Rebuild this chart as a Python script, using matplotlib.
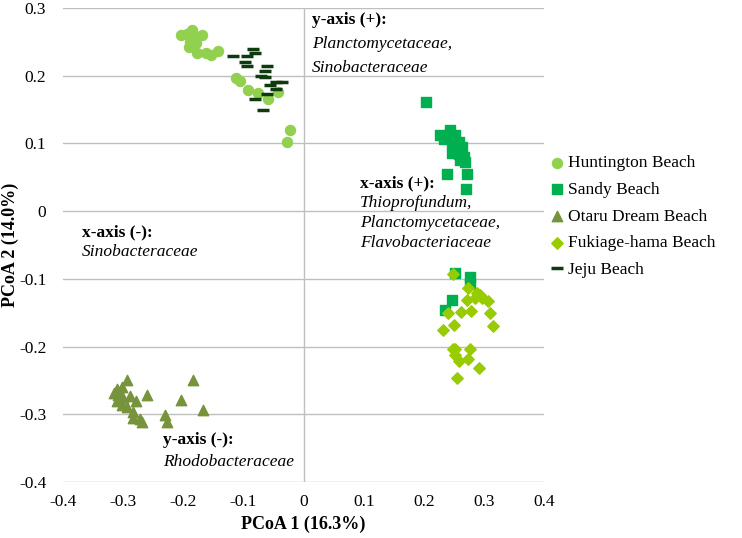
import matplotlib
matplotlib.use("Agg")
import matplotlib.pyplot as plt

plt.rcParams['font.family'] = ['Liberation Serif', 'DejaVu Serif']

# PCoA coordinates
hunt_x = [-0.204, -0.186, -0.194, -0.183, -0.169, -0.189, -0.179, -0.190, -0.178, -0.162,
          -0.154, -0.142, -0.112, -0.106, -0.092, -0.075, -0.059, -0.042, -0.022, -0.027]
hunt_y = [0.260, 0.268, 0.262, 0.260, 0.260, 0.250, 0.248, 0.243, 0.233, 0.233,
          0.230, 0.237, 0.197, 0.192, 0.179, 0.175, 0.166, 0.176, 0.120, 0.102]

sandy_x = [0.204, 0.227, 0.243, 0.233, 0.252, 0.247, 0.258, 0.263, 0.249, 0.247, 0.258,
           0.266, 0.260, 0.269, 0.238, 0.272, 0.270, 0.252, 0.277, 0.277, 0.247, 0.235]
sandy_y = [0.161, 0.112, 0.120, 0.107, 0.112, 0.100, 0.102, 0.095, 0.093, 0.086, 0.084,
           0.080, 0.075, 0.073, 0.055, 0.055, 0.032, -0.092, -0.097, -0.107, -0.131, -0.146]

otaru_x = [-0.294, -0.183, -0.311, -0.302, -0.316, -0.308, -0.300, -0.289, -0.278, -0.261,
           -0.311, -0.302, -0.294, -0.283, -0.284, -0.272, -0.269, -0.203, -0.167, -0.230, -0.227]
otaru_y = [-0.249, -0.249, -0.262, -0.259, -0.269, -0.272, -0.276, -0.273, -0.280, -0.272,
           -0.281, -0.286, -0.289, -0.296, -0.306, -0.307, -0.312, -0.279, -0.294, -0.301, -0.311]

fuki_x = [0.248, 0.274, 0.288, 0.285, 0.272, 0.297, 0.306, 0.241, 0.262, 0.279, 0.310, 0.232,
          0.250, 0.315, 0.249, 0.252, 0.277, 0.252, 0.258, 0.273, 0.291, 0.255, 0.294]
fuki_y = [-0.093, -0.114, -0.121, -0.129, -0.131, -0.129, -0.132, -0.150, -0.149, -0.147, -0.150, -0.176,
          -0.168, -0.170, -0.204, -0.204, -0.204, -0.213, -0.221, -0.219, -0.232, -0.246, -0.124]

jeju_x = [-0.117, -0.084, -0.094, -0.097, -0.094, -0.061, -0.064, -0.070, -0.064,
          -0.045, -0.036, -0.056, -0.045, -0.061, -0.081, -0.068, -0.080]
jeju_y = [0.229, 0.240, 0.229, 0.220, 0.214, 0.214, 0.207, 0.200, 0.198,
          0.191, 0.191, 0.186, 0.180, 0.173, 0.166, 0.150, 0.234]

fig = plt.figure(figsize=(7.42, 5.38), dpi=100)
ax = fig.add_axes([0.0849, 0.1041, 0.6484, 0.8810])

grid_c = '#bfbfbf'
for yv in [-0.4, -0.3, -0.2, -0.1, 0, 0.1, 0.2, 0.3]:
    ax.axhline(yv, color=grid_c, lw=1, zorder=0)
ax.axvline(0, color=grid_c, lw=1, zorder=0)

ax.scatter(hunt_x, hunt_y, s=52, marker='o', color='#92d050', label='Huntington Beach', zorder=3)
ax.scatter(sandy_x, sandy_y, s=42, marker='s', color='#00b050', label='Sandy Beach', zorder=3)
ax.scatter(otaru_x, otaru_y, s=56, marker='^', color='#77933c', label='Otaru Dream Beach', zorder=3)
ax.scatter(fuki_x, fuki_y, s=34, marker='D', color='#99cc00', label='Fukiage-hama Beach', zorder=4)
ax.plot(jeju_x, jeju_y, ls='none', marker='_', ms=8, mew=2.5, color='#0d3b0d', label='Jeju Beach', zorder=3)

ax.set_xlim(-0.4, 0.4)
ax.set_ylim(-0.4, 0.3)
ax.set_xticks([-0.4, -0.3, -0.2, -0.1, 0, 0.1, 0.2, 0.3, 0.4])
ax.set_xticklabels(['-0.4', '-0.3', '-0.2', '-0.1', '0', '0.1', '0.2', '0.3', '0.4'])
ax.set_yticks([-0.4, -0.3, -0.2, -0.1, 0, 0.1, 0.2, 0.3])
ax.set_yticklabels(['-0.4', '-0.3', '-0.2', '-0.1', '0', '0.1', '0.2', '0.3'])
ax.tick_params(axis='both', length=0, labelsize=12.5)
ax.tick_params(axis='y', pad=12)
ax.tick_params(axis='x', pad=9)
for sp in ax.spines.values():
    sp.set_visible(False)

ax.set_xlabel('PCoA 1 (16.3%)', fontsize=13, fontweight='bold', labelpad=4)
ax.set_ylabel('PCoA 2 (14.0%)', fontsize=13, fontweight='bold')
ax.yaxis.set_label_coords(-0.092, 0.5)

# annotations: bold heading then italic lines
fs = 12.5
def note(x, y, head, lines, step):
    ax.text(x, y, head, fontsize=fs, fontweight='bold', va='center', ha='left')
    for i, ln in enumerate(lines):
        ax.text(x, y - step * (i + 1), ln, fontsize=fs, style='italic', va='center', ha='left')

note(0.014, 0.282, 'y-axis (+):', ['Planctomycetaceae,', 'Sinobacteraceae'], 0.0355)
note(0.094, 0.041, 'x-axis (+):', ['Thioprofundum,', 'Planctomycetaceae,', 'Flavobacteriaceae'], 0.0295)
note(-0.369, -0.031, 'x-axis (-):', ['Sinobacteraceae'], 0.0295)
note(-0.234, -0.338, 'y-axis (-):', ['Rhodobacteraceae'], 0.0325)

ax.legend(loc='upper left', bbox_to_anchor=(0.9875, 0.715), frameon=False, fontsize=12.5,
          handlelength=0.8, handletextpad=0.2, labelspacing=0.6, borderaxespad=0.3)

fig.savefig('out.png', dpi=100)
